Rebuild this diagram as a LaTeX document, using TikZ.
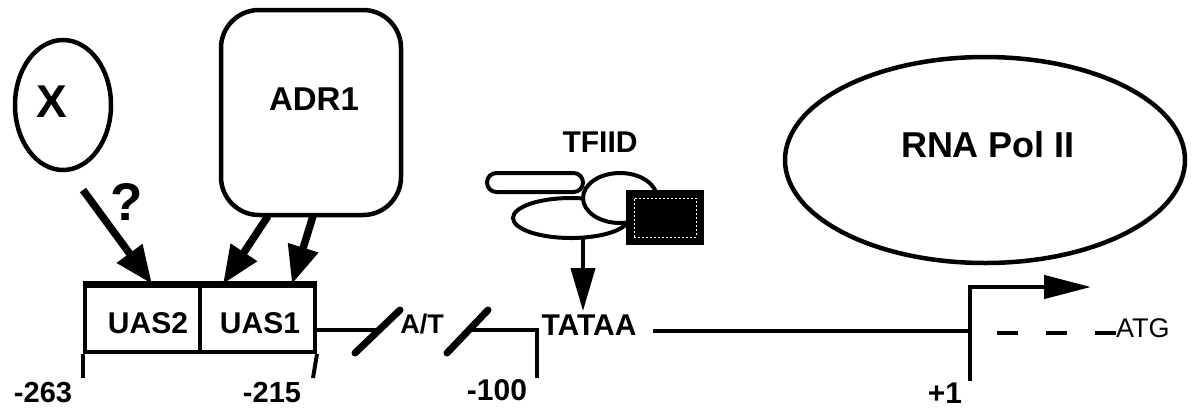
\documentclass[tikz,border=0pt]{standalone}
\usepackage{fontspec}
\setmainfont{Liberation Sans}
\usetikzlibrary{shapes.geometric,arrows.meta}
\begin{document}
\begin{tikzpicture}[x=1pt,y=-1pt,
  lbl/.style={font=\bfseries\fontsize{#1}{#1}\selectfont, inner sep=0pt, anchor=base},
  thin line/.style={line width=4pt},
  fat arrow/.style={line width=7.5pt, -{Triangle[length=38pt,width=30pt]}},
  slashline/.style={line width=7pt, line cap=round},
  shape line/.style={draw, line width=4.5pt, inner sep=0pt},
]
\useasboundingbox (0,0) rectangle (1196,408);

% ---- X and ADR1 ----
\node[shape line, ellipse, minimum width=96pt, minimum height=130pt] (xell) at (63,105) {};
\node[lbl=46] (xlab) at (52,117) {X};
\node[lbl=53] (q) at (127,220) {?};
\node[shape line, rounded corners=38pt, minimum width=180pt, minimum height=205pt] (adr) at (311,112.5) {};
\node[lbl=33] (adrlab) at (314,110) {ADR1};

% ---- UAS box ----
\node[draw, thin line, minimum width=230pt, minimum height=66pt, inner sep=0pt, anchor=north west] (uas) at (83,284) {};
\draw[line width=6pt] (uas.north west) -- (uas.north east);
\coordinate (divT) at (200,284);
\coordinate (divB) at (200,350);
\draw[thin line] (divT) -- (divB);
\coordinate (t263) at (83,378);
\coordinate (t215) at (313,378);
\draw[thin line] (uas.south west) -- (t263);
\draw[thin line] (uas.south east) -- (t215);
\node[lbl=30] (uas2) at (148,333) {UAS2};
\node[lbl=30] (uas1) at (260,333) {UAS1};
\node[lbl=29] (n263) at (43,402) {-263};
\node[lbl=29] (n215) at (272,402) {-215};

% arrows onto UAS
\coordinate (xa0) at (83,190);
\coordinate (xa1) at (152,284);
\draw[fat arrow] (xa0) -- (xa1);
\coordinate (aa0) at (268,216);
\coordinate (aa1) at (223,284);
\draw[fat arrow] (aa0) -- (aa1);
\coordinate (ab0) at (313,216);
\coordinate (ab1) at (292,284);
\draw[fat arrow] (ab0) -- (ab1);

% ---- line, slashes, A/T ----
\coordinate (l0) at (313,330);
\coordinate (l1) at (377,330);
\draw[thin line] (l0) -- (l1);
\coordinate (s1a) at (355,353);
\coordinate (s1b) at (400,310);
\draw[slashline] (s1a) -- (s1b);
\node[lbl=27] (at) at (422,333) {A/T};
\coordinate (s2a) at (447,353);
\coordinate (s2b) at (488,310);
\draw[slashline] (s2a) -- (s2b);
\coordinate (l2) at (469,330);
\coordinate (l3) at (537,330);
\coordinate (t100) at (537,378);
\draw[thin line, line join=miter] (l2) -- (l3) -- (t100);
\node[lbl=30] (n100) at (497,400) {-100};
\node[lbl=30] (tata) at (589,335) {TATAA};

% ---- TFIID ----
\node[lbl=30] (tfiid) at (600,152) {TFIID};
\node[draw, thin line, rounded corners=9.5pt, minimum width=96pt, minimum height=19pt, inner sep=0pt, fill=white] (pill) at (535,182.5) {};
\node[draw, thin line, ellipse, minimum width=116pt, minimum height=40pt, inner sep=0pt, fill=white] (lowell) at (571,218) {};
\node[draw, thin line, ellipse, minimum width=74pt, minimum height=50pt, inner sep=0pt, fill=white] (circ) at (620,198) {};
\node[draw, thin line, minimum width=74pt, minimum height=51pt, inner sep=0pt, fill=black] (dbox) at (665,217.5) {};
\node[draw=white, line width=0.7pt, dash pattern=on 2pt off 2pt, minimum width=62pt, minimum height=39pt, inner sep=0pt] (dboxin) at (665,217.5) {};
\coordinate (tfa0) at (583,236);
\coordinate (tfa1) at (583,311);
\draw[thin line, -{Triangle[length=43pt,width=24pt]}] (tfa0) -- (tfa1);

% ---- RNA Pol II ----
\node[shape line, ellipse, minimum width=400pt, minimum height=206pt] (pol) at (985,160) {};
\node[lbl=36] (pollab) at (988,157) {RNA Pol II};

% ---- main line, promoter, ATG ----
\coordinate (m0) at (653,331);
\coordinate (m1) at (970,331);
\draw[thin line] (m0) -- (m1);
\coordinate (p0) at (970,381);
\coordinate (p1) at (1091,287);
\draw[line width=4.5pt, line join=miter, -{Triangle[length=47pt,width=23pt]}] (p0) |- (p1);
\node[lbl=30] (plus1) at (945,403) {+1};
\coordinate (d0) at (997,333);
\coordinate (d1) at (1117,333);
\draw[line width=4.5pt, dash pattern=on 21pt off 28pt] (d0) -- (d1);
\node[font=\fontsize{27}{27}\selectfont, inner sep=0pt, anchor=base west] (atg) at (1116,337) {ATG};
\end{tikzpicture}
\end{document}
